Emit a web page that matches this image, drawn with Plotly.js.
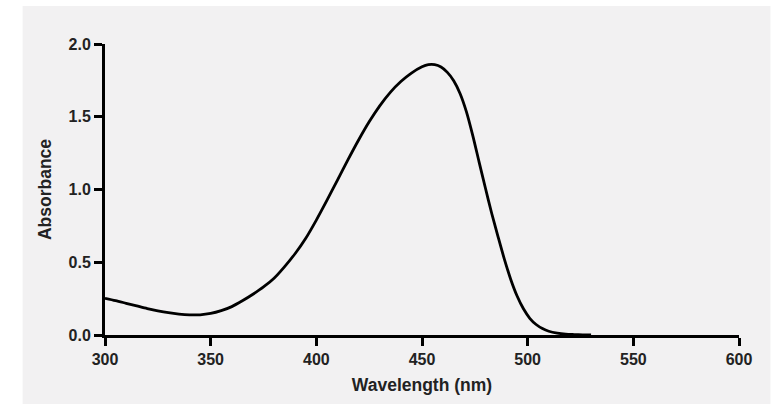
<!DOCTYPE html>
<html>
<head>
<meta charset="utf-8">
<script src="https://cdn.plot.ly/plotly-3.0.1.min.js"></script>
<style>html,body{margin:0;padding:0;background:#ffffff;}#chart{width:775px;height:404px;}</style>
</head>
<body>
<div id="chart"></div>
<script>
// Wavelength (nm)
const wavelength = [300,305,310,315,320,325,330,335,340,345,350,355,360,365,370,375,380,385,390,395,400,405,410,415,420,425,430,435,440,445,450,453,456,459,462,465,468,471,474,477,480,483,486,489,492,495,498,501,504,507,510,514,518,522,526,530];
// Absorbance
const absorbance = [0.252,0.236,0.218,0.200,0.182,0.166,0.153,0.144,0.139,0.139,0.148,0.167,0.195,0.235,0.280,0.330,0.390,0.470,0.560,0.665,0.790,0.925,1.065,1.205,1.340,1.465,1.575,1.668,1.742,1.800,1.843,1.858,1.858,1.842,1.805,1.748,1.660,1.535,1.372,1.190,1.010,0.835,0.675,0.520,0.382,0.268,0.180,0.115,0.072,0.044,0.026,0.013,0.006,0.003,0.001,0.000];
const xTicks = [300,350,400,450,500,550,600];
const yTicks = [0.0,0.5,1.0,1.5,2.0];
const yTickText = ["0.0","0.5","1.0","1.5","2.0"];

const tickFont = {family: 'Arial, "Liberation Sans", sans-serif', size: 16, weight: 'bold', color: '#222222'};
const titleFont = {family: 'Arial, "Liberation Sans", sans-serif', size: 17.5, weight: 'bold', color: '#222222'};

const trace = {
  x: wavelength, y: absorbance, type: 'scatter', mode: 'lines',
  line: {color: '#000000', width: 2.8, shape: 'spline', smoothing: 0.8},
  hoverinfo: 'skip', showlegend: false
};

const layout = {
  width: 775, height: 404,
  margin: {l: 105, r: 36, t: 44, b: 69},
  paper_bgcolor: '#ffffff',
  plot_bgcolor: 'rgba(0,0,0,0)',
  shapes: [{
    type: 'rect', xref: 'paper', yref: 'paper', layer: 'below',
    x0: -0.1299, x1: 1.0496, y0: -0.2371, y1: 1.1306,
    fillcolor: '#f2f1f2', line: {width: 0}
  }],
  xaxis: {
    range: [300, 600], tickvals: xTicks, ticktext: xTicks.map(String),
    showgrid: false, zeroline: false,
    showline: true, linecolor: '#000000', linewidth: 3,
    ticks: 'outside', ticklen: 8, tickwidth: 3, tickcolor: '#000000',
    tickfont: tickFont,
    title: {text: 'Wavelength (nm)', font: titleFont, standoff: 12}
  },
  yaxis: {
    range: [0, 2], tickvals: yTicks, ticktext: yTickText,
    showgrid: false, zeroline: false,
    showline: true, linecolor: '#000000', linewidth: 3,
    ticks: 'outside', ticklen: 8, tickwidth: 3, tickcolor: '#000000',
    tickfont: tickFont,
    title: {text: 'Absorbance', font: titleFont, standoff: 13}
  }
};

Plotly.newPlot('chart', [trace], layout, {displayModeBar: false, staticPlot: true});
</script>
</body>
</html>
